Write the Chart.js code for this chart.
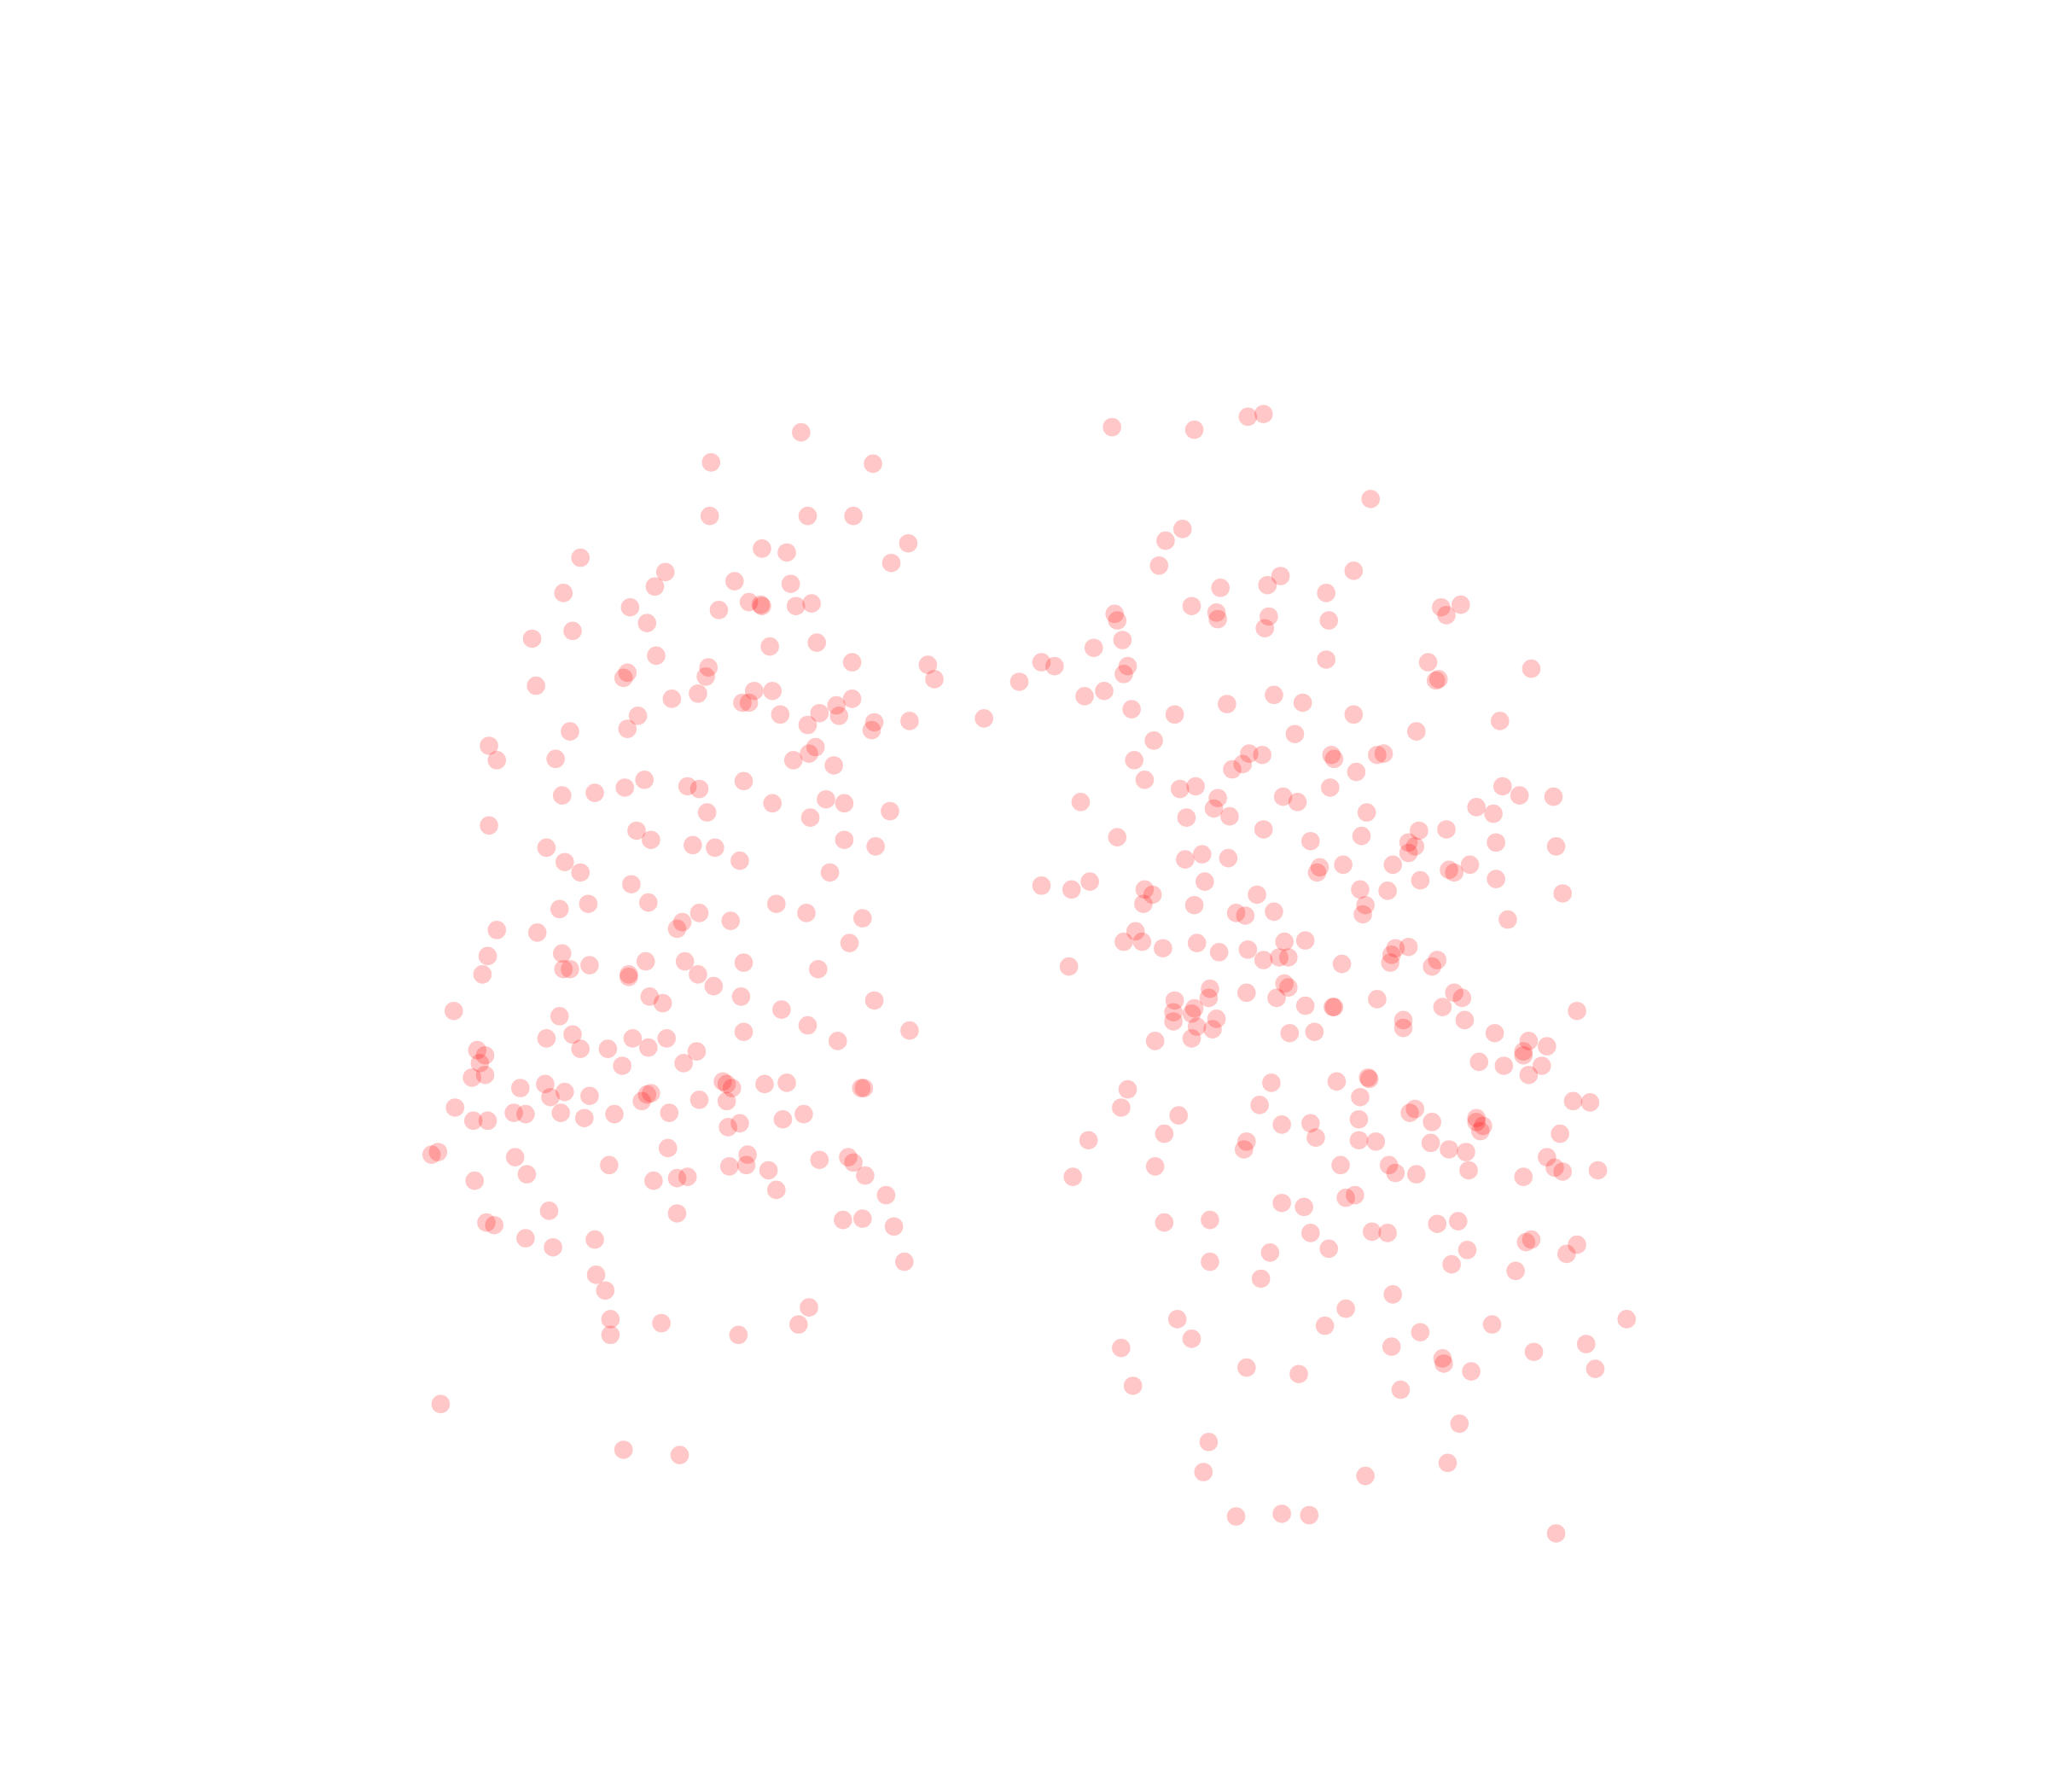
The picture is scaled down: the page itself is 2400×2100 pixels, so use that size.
<!DOCTYPE html>
<html><head><meta charset="utf-8">
<style>html,body{margin:0;padding:0;background:#fff}canvas{display:block}</style>
<script src="https://cdn.jsdelivr.net/npm/chart.js@4"></script>
</head><body><canvas id="c" width="2400" height="2100" style="width:2400px;height:2100px"></canvas>
<script>
const leftPoints = [[613,331],[544,354],[668,355],[543,395],[618,395],[653,395],[695,416],[682,431],[583,420],[602,423],[444,427],[509,438],[501,449],[431,454],[562,445],[605,447],[573,461],[582,463],[583,464],[609,464],[621,462],[482,465],[550,467],[495,477],[438,483],[407,489],[589,495],[625,492],[502,502],[652,507],[710,509],[715,520],[542,511],[540,518],[480,515],[477,519],[410,525],[514,535],[534,531],[577,529],[591,529],[568,538],[573,538],[652,535],[640,540],[627,546],[642,548],[597,547],[618,555],[488,548],[480,558],[436,560],[669,553],[667,559],[696,552],[753,550],[374,571],[380,582],[425,581],[624,572],[619,577],[607,582],[638,586],[493,597],[478,603],[455,607],[430,609],[526,602],[535,604],[569,598],[591,615],[632,612],[646,615],[541,622],[620,626],[681,621],[374,632],[487,636],[498,643],[530,647],[547,649],[646,643],[670,648],[418,649],[432,660],[444,668],[566,659],[635,668],[483,677],[428,696],[450,692],[496,691],[594,692],[617,699],[535,699],[559,705],[522,706],[518,711],[660,703],[380,712],[411,714],[650,722],[430,730],[373,732],[431,742],[436,742],[451,739],[369,746],[494,736],[524,736],[569,737],[626,742],[534,746],[481,746],[481,748],[546,755],[497,763],[507,768],[567,763],[669,766],[347,774],[598,773],[428,778],[618,785],[696,789],[418,795],[438,792],[484,795],[510,795],[569,790],[641,797],[444,803],[465,803],[496,802],[533,805],[365,804],[371,808],[367,814],[361,825],[371,823],[476,816],[523,814],[398,833],[417,830],[421,840],[432,836],[451,839],[553,828],[556,830],[560,833],[585,830],[602,829],[491,843],[495,838],[498,837],[659,833],[661,833],[535,842],[556,843],[348,848],[393,852],[402,853],[429,852],[447,856],[470,853],[512,852],[615,853],[362,858],[373,858],[566,860],[557,863],[599,857],[511,879],[330,884],[335,882],[394,886],[466,892],[558,893],[572,884],[571,892],[588,896],[627,888],[649,886],[653,890],[403,899],[363,904],[500,904],[518,902],[526,901],[662,900],[594,911],[678,915],[420,927],[518,929],[645,934],[660,933],[372,936],[378,938],[684,939],[402,948],[423,955],[455,949],[692,966],[456,976],[463,988],[619,1001],[467,1010],[506,1013],[611,1014],[467,1022],[565,1022],[337,1075],[477,1110],[520,1114]];
const rightPoints = [[851,327],[914,329],[955,319],[967,317],[1049,382],[905,405],[892,414],[887,433],[980,441],[970,448],[934,450],[1036,437],[1015,454],[1103,465],[1118,463],[1107,471],[853,470],[855,475],[912,464],[931,469],[932,474],[971,472],[968,481],[1017,475],[859,490],[837,496],[797,507],[807,510],[780,522],[863,510],[860,516],[845,529],[830,533],[1015,505],[1093,507],[1101,520],[1099,521],[1172,512],[975,532],[997,538],[939,539],[866,543],[899,547],[1036,547],[1148,552],[1084,560],[991,562],[883,567],[1019,578],[1021,581],[1054,578],[1059,577],[966,578],[956,577],[951,585],[943,589],[868,582],[1038,591],[876,597],[903,604],[915,602],[1018,603],[982,610],[993,614],[1150,602],[1163,609],[1189,610],[827,614],[932,611],[929,619],[941,625],[908,626],[1130,618],[1143,623],[1046,622],[967,635],[1086,636],[1107,635],[855,641],[1042,640],[1003,644],[1078,645],[1083,648],[1078,653],[1145,645],[1191,648],[920,654],[907,658],[940,657],[1066,662],[1028,662],[1010,664],[1008,668],[1109,666],[1113,668],[1125,662],[922,675],[1145,673],[1087,674],[797,678],[820,681],[834,675],[876,681],[882,685],[875,692],[1041,681],[1062,682],[962,685],[1196,684],[914,693],[1045,693],[1043,700],[946,699],[953,701],[975,698],[1154,704],[869,713],[860,721],[874,721],[890,726],[916,722],[933,729],[955,727],[983,721],[999,720],[1068,726],[1078,725],[1065,731],[1064,737],[967,735],[979,733],[986,733],[1100,735],[1096,740],[818,740],[1027,738],[926,757],[899,766],[925,764],[954,760],[983,753],[986,756],[977,764],[999,770],[1020,771],[1021,771],[1054,765],[1113,760],[1119,764],[1104,771],[1207,774],[914,772],[898,775],[912,776],[898,782],[931,780],[916,786],[928,788],[1074,781],[1074,787],[1121,781],[912,795],[884,797],[987,791],[1006,790],[1144,791],[1170,797],[1184,801],[1166,805],[1166,808],[1132,813],[1151,816],[1180,816],[1170,823],[973,829],[1023,828],[1047,825],[1048,826],[863,834],[1041,840],[964,846],[858,848],[1204,843],[1217,844],[902,854],[1079,852],[1083,849],[1040,857],[981,861],[1003,860],[1096,859],[1130,856],[1130,859],[1135,862],[1133,866],[891,868],[1007,871],[1194,868],[833,873],[954,874],[952,880],[1040,873],[1053,874],[1095,875],[1109,880],[1122,882],[1184,886],[884,893],[1026,892],[1063,892],[1190,894],[1196,897],[1223,896],[821,901],[1068,898],[1084,899],[1124,896],[1166,901],[1030,917],[1037,915],[981,921],[998,924],[891,936],[926,934],[1100,937],[1116,935],[1003,944],[1050,943],[1062,944],[1172,949],[1168,951],[1207,953],[1017,956],[972,959],[1123,957],[1199,960],[926,966],[1111,968],[1160,973],[965,979],[1066,991],[1030,1002],[1245,1010],[901,1010],[1014,1015],[1142,1014],[1087,1020],[912,1025],[858,1032],[1065,1031],[1214,1029],[1174,1035],[1104,1040],[1105,1044],[954,1047],[1126,1050],[1221,1048],[994,1052],[867,1061],[1072,1064],[1117,1090],[925,1104],[1108,1120],[921,1127],[1045,1130],[946,1161],[981,1159],[1002,1160],[1191,1174]];
const xRange = [-0.4, 1567.6];
const yRange = [0, 1372];
const toXY = a => a.map(p => ({x: p[0], y: p[1]}));
const style = {pointRadius: 10.8, pointHoverRadius: 10.8, pointBorderWidth: 0, pointBackgroundColor: 'rgba(255,0,0,0.22)', pointBorderColor: 'rgba(255,255,255,0)'};
new Chart(document.getElementById('c'), {
  type: 'scatter',
  data: {datasets: [
    Object.assign({label: 'Left', data: toXY(leftPoints)}, style),
    Object.assign({label: 'Right', data: toXY(rightPoints)}, style)
  ]},
  options: {
    responsive: false, animation: false, devicePixelRatio: 1,
    layout: {padding: 0, autoPadding: false},
    plugins: {legend: {display: false}, tooltip: {enabled: false}, title: {display: false}},
    scales: {
      x: {type: 'linear', display: false, min: xRange[0], max: xRange[1]},
      y: {type: 'linear', display: false, min: yRange[0], max: yRange[1], reverse: true}
    }
  }
});
</script></body></html>
